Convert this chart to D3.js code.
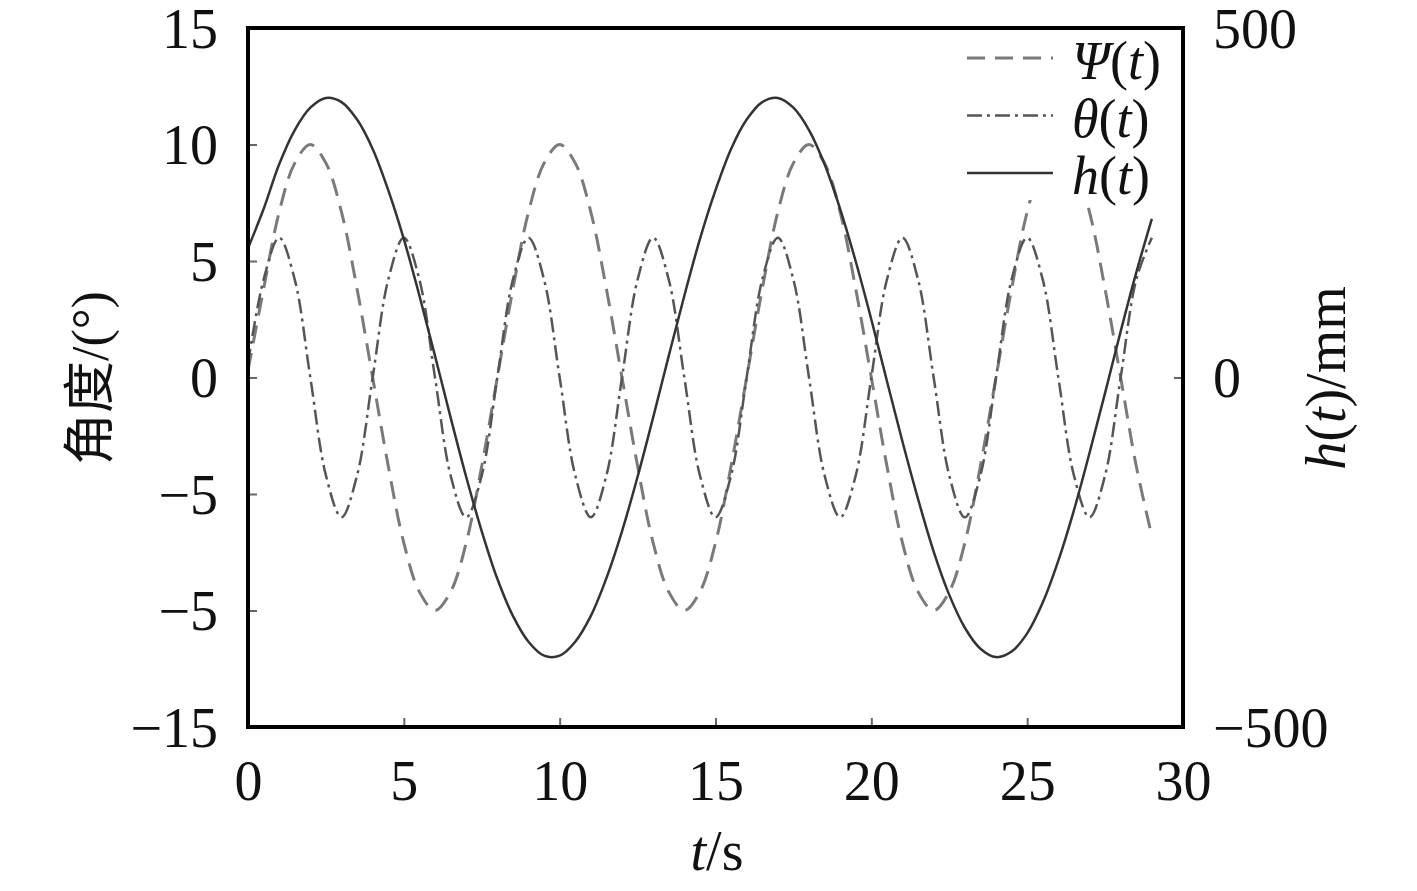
<!DOCTYPE html>
<html>
<head>
<meta charset="utf-8">
<script src="https://cdn.jsdelivr.net/npm/d3@7"></script>
<style>
body { margin: 0; background: #fff; }
svg { font-family: "Liberation Serif", "Noto Sans CJK SC", serif; }
.tick line { stroke: #666; stroke-width: 2; }
.tick text { font-size: 56px; fill: #111; font-family: "Liberation Serif", serif; }
</style>
</head>
<body>
<svg width="1417" height="891"></svg>
<script>
// time samples (s)
var times = [0,0.5,1,1.5,2,2.5,3,3.5,4,4.5,5,5.5,6,6.5,7,7.5,8,8.5,9,9.5,10,10.5,11,11.5,12,12.5,13,13.5,14,14.5,
  15,15.5,16,16.5,17,17.5,18,18.5,19,19.5,20,20.5,21,21.5,22,22.5,23,23.5,24,24.5,25,25.5,26,26.5,27,27.5,28,28.5,29];

// Psi(t), degrees
var psi = [0.3,3.8,7.1,9.2,10,9.2,7.1,3.8,0,-3.8,-7.1,-9.2,-10,-9.2,-7.1,-3.8,
  0,3.8,7.1,9.2,10,9.2,7.1,3.8,0,-3.8,-7.1,-9.2,-10,-9.2,-7.1,-3.8,
  0,3.8,7.1,9.2,10,9.2,7.1,3.8,0,-3.8,-7.1,-9.2,-10,-9.2,-7.1,-3.8,
  0,3.8,7.1,9.2,10,9.2,7.1,3.8,0,-3.8,-6.8];

// theta(t), degrees
var theta = [0.6,4.2,6,4.2,0,-4.2,-6,-4.2, 0,4.2,6,4.2,0,-4.2,-6,-4.2,
  0,4.2,6,4.2,0,-4.2,-6,-4.2, 0,4.2,6,4.2,0,-4.2,-6,-4.2,
  0,4.2,6,4.2,0,-4.2,-6,-4.2, 0,4.2,6,4.2,0,-4.2,-6,-4.2,
  0,4.2,6,4.2,0,-4.2,-6,-4.2, 0,4.2,6];

// h(t), mm
var hval = [185,241,305,354,386,400,394,369,327,268,198,117,31,-57,-142,-220,-288,-341,-378,-398,
  -398,-378,-341,-287,-220,-142,-57,31,117,198,268,327,369,394,400,386,354,305,241,166,
  83,-5,-92,-174,-249,-311,-358,-388,-400,-392,-366,-322,-262,-190,-108,-22,66,150,227];

var xTicks = [0,5,10,15,20,25,30];
var yTicks = [15,10,5,0,-5,-10,-15];
var yTickLabels = ["15","10","5","0","\u22125","\u22125","\u221215"];
var hTicks = [500,0,-500];
var hTickLabels = ["500","0","\u2212500"];

var svg = d3.select("svg");
var pLeft = 248, pRight = 1183, pTop = 28, pBottom = 727;

var x = d3.scaleLinear().domain([0,30]).range([pLeft,pRight]);
var y = d3.scaleLinear().domain([-15,15]).range([pBottom,pTop]);
var yh = d3.scaleLinear().domain([-500,500]).range([pBottom,pTop]);

svg.append("clipPath").attr("id","plot")
  .append("rect").attr("x",pLeft).attr("y",pTop).attr("width",pRight-pLeft).attr("height",pBottom-pTop);

// axes with inward ticks
var gx = svg.append("g").attr("transform","translate(0,"+pBottom+")")
  .call(d3.axisBottom(x).tickValues(xTicks).tickSizeInner(-9).tickSizeOuter(0).tickPadding(0));
gx.selectAll("text").attr("y",73).attr("dy",0);

var gy = svg.append("g").attr("transform","translate("+pLeft+",0)")
  .call(d3.axisLeft(y).tickValues(yTicks).tickSizeInner(-9).tickSizeOuter(0).tickPadding(30)
    .tickFormat(function(d,i){ return yTickLabels[i]; }));
gy.selectAll("text").attr("dy","0.34em");

var gr = svg.append("g").attr("transform","translate("+pRight+",0)")
  .call(d3.axisRight(yh).tickValues(hTicks).tickSizeInner(-9).tickSizeOuter(0).tickPadding(30)
    .tickFormat(function(d,i){ return hTickLabels[i]; }));
gr.selectAll("text").attr("dy","0.34em");

svg.selectAll(".domain").remove();

var data = times.map(function(t,i){ return {t:t, psi:psi[i], theta:theta[i], h:hval[i]}; });

var lines = svg.append("g").attr("clip-path","url(#plot)");

lines.append("path").datum(data)
  .attr("fill","none").attr("stroke","#7a7a7a").attr("stroke-width",3)
  .attr("stroke-dasharray","18,10")
  .attr("d", d3.line().curve(d3.curveCatmullRom).x(function(d){return x(d.t);}).y(function(d){return y(d.psi);}));

lines.append("path").datum(data)
  .attr("fill","none").attr("stroke","#555").attr("stroke-width",2.5)
  .attr("stroke-dasharray","15,5,3,5")
  .attr("d", d3.line().curve(d3.curveCatmullRom).x(function(d){return x(d.t);}).y(function(d){return y(d.theta);}));

lines.append("path").datum(data)
  .attr("fill","none").attr("stroke","#333").attr("stroke-width",2.5)
  .attr("d", d3.line().curve(d3.curveCatmullRom).x(function(d){return x(d.t);}).y(function(d){return yh(d.h);}));

// legend
var legend = svg.append("g");
legend.append("rect").attr("x",955).attr("y",34).attr("width",215).attr("height",166).attr("fill","#fff");
var items = [
  {sym:"\u03A8", color:"#7a7a7a", dash:"18,10", w:3},
  {sym:"\u03B8", color:"#555", dash:"15,5,3,5", w:2.5},
  {sym:"h", color:"#333", dash:null, w:2.5}
];
items.forEach(function(it,i){
  var ly = 58 + i*57.5;
  legend.append("line").attr("x1",967).attr("x2",1053).attr("y1",ly).attr("y2",ly)
    .attr("stroke",it.color).attr("stroke-width",it.w).attr("stroke-dasharray",it.dash);
  var tx = legend.append("text").attr("x",1072).attr("y",ly+21).attr("font-size",54).attr("fill","#111");
  tx.append("tspan").attr("font-style","italic").text(it.sym);
  tx.append("tspan").text("(");
  tx.append("tspan").attr("font-style","italic").text("t");
  tx.append("tspan").text(")");
});

// frame
svg.append("rect").attr("x",pLeft).attr("y",pTop).attr("width",pRight-pLeft).attr("height",pBottom-pTop)
  .attr("fill","none").attr("stroke","#000").attr("stroke-width",4);

// axis titles
var xl = svg.append("text").attr("x",717).attr("y",870).attr("text-anchor","middle").attr("font-size",56).attr("fill","#111");
xl.append("tspan").attr("font-style","italic").text("t");
xl.append("tspan").text("/s");

svg.append("text").attr("transform","translate(90,378) rotate(-90)")
  .attr("text-anchor","middle").attr("dominant-baseline","central")
  .attr("font-size",52).attr("fill","#111").text("角度/(°)");

var rl = svg.append("text").attr("transform","translate(1326,378) rotate(-90)")
  .attr("text-anchor","middle").attr("dominant-baseline","central")
  .attr("font-size",56).attr("fill","#111");
rl.append("tspan").attr("font-style","italic").text("h");
rl.append("tspan").text("(");
rl.append("tspan").attr("font-style","italic").text("t");
rl.append("tspan").text(")/mm");
</script>
</body>
</html>
